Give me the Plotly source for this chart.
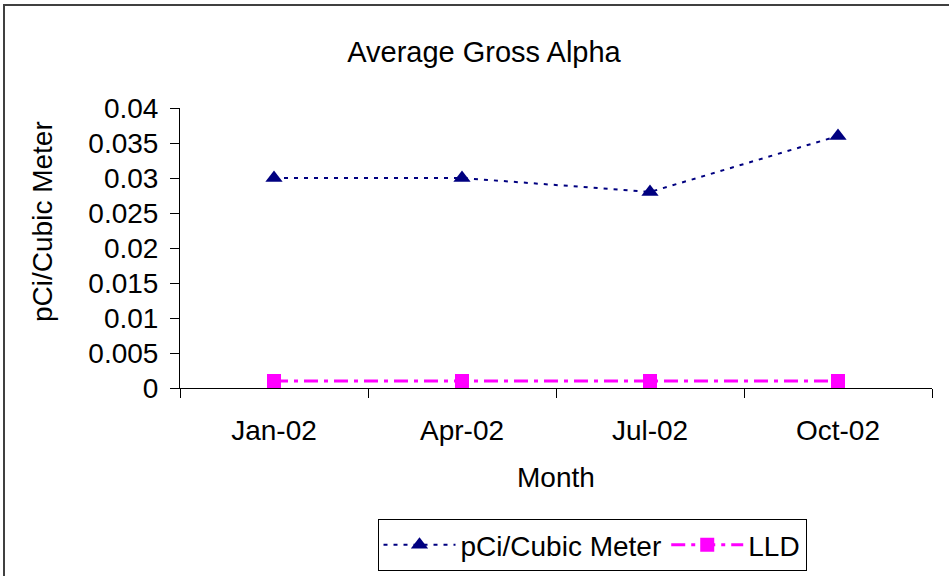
import plotly.graph_objects as go

months = ["Jan-02", "Apr-02", "Jul-02", "Oct-02"]
alpha_values = [0.030, 0.030, 0.028, 0.036]
lld_values = [0.001, 0.001, 0.001, 0.001]
y_ticks = [0, 0.005, 0.01, 0.015, 0.02, 0.025, 0.03, 0.035, 0.04]
y_tick_text = ["0", "0.005", "0.01", "0.015", "0.02", "0.025", "0.03", "0.035", "0.04"]

FONT = "Liberation Sans, Arial, sans-serif"
FS = 28

fig = go.Figure()
fig.add_trace(go.Scatter(
    x=months, y=alpha_values, name="pCi/Cubic Meter", mode="lines+markers",
    line=dict(color="#000080", width=2, dash="4px,6px"),
    marker=dict(symbol="triangle-up", size=15, color="#000080"),
))
fig.add_trace(go.Scatter(
    x=months, y=lld_values, name="LLD", mode="lines+markers",
    line=dict(color="#FF00FF", width=3, dash="14px,6px,4px,6px"),
    marker=dict(symbol="square", size=14, color="#FF00FF"),
))

L, R, T, B = 180, 17, 108, 188
W, H = 949, 576
pw, ph = W - L - R, H - T - B

def px_x(p):
    return (p - L) / pw

def px_y(p):
    return (H - B - p) / ph

fig.update_layout(
    width=W, height=H,
    margin=dict(l=L, r=R, t=T, b=B, autoexpand=False),
    paper_bgcolor="white", plot_bgcolor="white",
    font=dict(family=FONT, size=FS, color="black"),
    title=dict(text="Average Gross Alpha", x=484 / W, xanchor="center",
               y=1 - 52 / H, yanchor="middle", font=dict(size=29)),
    showlegend=True,
    legend=dict(orientation="h", xref="container", x=592 / W, xanchor="center",
                yref="container", y=1 - 519 / H, yanchor="top",
                bordercolor="black", borderwidth=1,
                font=dict(size=FS), bgcolor="white", itemwidth=72),
    xaxis=dict(
        type="category", range=[-0.5, 3.5], tickson="boundaries",
        ticks="outside", ticklen=9, tickcolor="black", tickwidth=1,
        showline=True, linecolor="black", linewidth=1, showgrid=False,
        zeroline=False, tickfont=dict(size=FS), ticklabelstandoff=17,
    ),
    yaxis=dict(
        range=[0, 0.04], tickvals=y_ticks, ticktext=y_tick_text,
        ticks="outside", ticklen=9, tickcolor="black", tickwidth=1,
        showline=True, linecolor="black", linewidth=1, showgrid=False,
        zeroline=False, tickfont=dict(size=FS), ticklabelstandoff=6,
    ),
    annotations=[
        dict(text="Month", x=0.5, y=px_y(477), xref="paper", yref="paper",
             showarrow=False, xanchor="center", yanchor="middle", font=dict(size=FS)),
        dict(text="pCi/Cubic Meter", x=px_x(42), y=px_y(222), xref="paper", yref="paper",
             showarrow=False, xanchor="center", yanchor="middle", textangle=-90,
             font=dict(size=FS)),
    ],
    shapes=[
        dict(type="rect", xref="paper", yref="paper",
             x0=px_x(4), x1=px_x(965), y0=px_y(595), y1=px_y(5),
             line=dict(color="#404040", width=2), fillcolor="rgba(0,0,0,0)", layer="below"),
    ],
)

fig.write_html("out.html", config={"displayModeBar": False},
               post_script="document.body.style.margin='0';document.body.style.overflow='hidden';")
